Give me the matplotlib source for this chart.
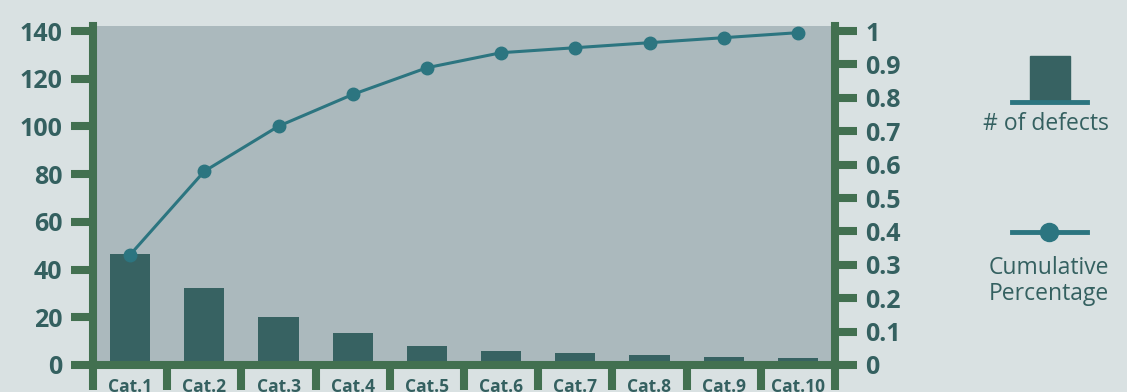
import matplotlib
matplotlib.use("Agg")
import matplotlib.pyplot as plt
from matplotlib.patches import Rectangle
from matplotlib.lines import Line2D
import numpy as np

# data
categories = ["Cat.1", "Cat.2", "Cat.3", "Cat.4", "Cat.5",
              "Cat.6", "Cat.7", "Cat.8", "Cat.9", "Cat.10"]
defects = [46.5, 32.3, 20.0, 13.4, 8.0, 5.9, 5.0, 4.2, 3.4, 3.0]
cumulative = [0.33, 0.58, 0.715, 0.81, 0.89, 0.935, 0.95, 0.965, 0.98, 0.995]

fig_bg = "#d9e1e2"
plot_bg = "#abb9bd"
green = "#427050"
bar_col = "#376262"
line_col = "#2c7580"
text_col = "#346060"

plt.rcParams["font.family"] = ["Open Sans", "DejaVu Sans"]

fig = plt.figure(figsize=(11.27, 3.92), dpi=100, facecolor=fig_bg)
ax = fig.add_axes([93 / 1127, 1 - 365 / 392, (835 - 93) / 1127, (365 - 26) / 392])
ax.set_facecolor(plot_bg)

x = np.arange(len(categories))
ax.bar(x, defects, width=0.54, color=bar_col, zorder=2)
ax.set_xlim(-0.5, len(categories) - 0.5)
ax.set_ylim(0, 142.1)
ax.set_yticks(range(0, 141, 20))

ax2 = ax.twinx()
ax2.plot(x, cumulative, color=line_col, lw=2.2, marker="o", ms=9, zorder=3)
ax2.set_ylim(0, 1.015)
ax2.set_yticks(np.arange(0, 1.01, 0.1))
ax2.set_yticklabels(["0"] + ["%.1f" % v for v in np.arange(0.1, 0.95, 0.1)] + ["1"])

for a in (ax, ax2):
    for s in a.spines.values():
        s.set_visible(False)
    a.patch.set_visible(a is ax)

ax.spines["left"].set_visible(True)
ax.spines["bottom"].set_visible(True)
ax2.spines["right"].set_visible(True)
for s in (ax.spines["left"], ax.spines["bottom"], ax2.spines["right"]):
    s.set_color(green)
    s.set_linewidth(5.8)
    s.set_zorder(5)

ax.tick_params(axis="y", length=16, width=5.8, color=green, labelcolor=text_col,
               labelsize=18, pad=6)
ax2.tick_params(axis="y", length=16, width=5.8, color=green, labelcolor=text_col,
                labelsize=18, pad=6)
for lab in ax.get_yticklabels() + ax2.get_yticklabels():
    lab.set_fontweight("bold")

ax.set_xticks(x)
ax.set_xticklabels(categories, fontsize=12.5, fontweight="bold", color=text_col)
ax.tick_params(axis="x", which="major", length=0, pad=9)
ax.set_xticks(np.arange(-0.5, len(categories), 1), minor=True)
ax.tick_params(axis="x", which="minor", length=18, width=5.8, color=green)

# legend drawn by hand on the right
W, H = 1127, 392
def fx(px):
    return px / W
def fy(py):
    return 1 - py / H

fig.patches.append(Rectangle((fx(1030), fy(100)), fx(40), 44 / H, transform=fig.transFigure,
                             color=bar_col))
fig.lines.append(Line2D([fx(1012), fx(1087)], [fy(102), fy(102)], transform=fig.transFigure,
                        color=line_col, lw=3.5))
fig.text(fx(1046), fy(124), "# of defects", ha="center", va="center", fontsize=16.5,
         color=text_col)
fig.lines.append(Line2D([fx(1012), fx(1087)], [fy(232), fy(232)], transform=fig.transFigure,
                        color=line_col, lw=3.5))
fig.lines.append(Line2D([fx(1049)], [fy(232)], transform=fig.transFigure, color=line_col,
                        marker="o", ms=13, lw=0))
fig.text(fx(1049), fy(281), "Cumulative\nPercentage", ha="center", va="center", fontsize=16.5,
         color=text_col, linespacing=1.15)

fig.savefig("out.png", dpi=100, facecolor=fig_bg)
